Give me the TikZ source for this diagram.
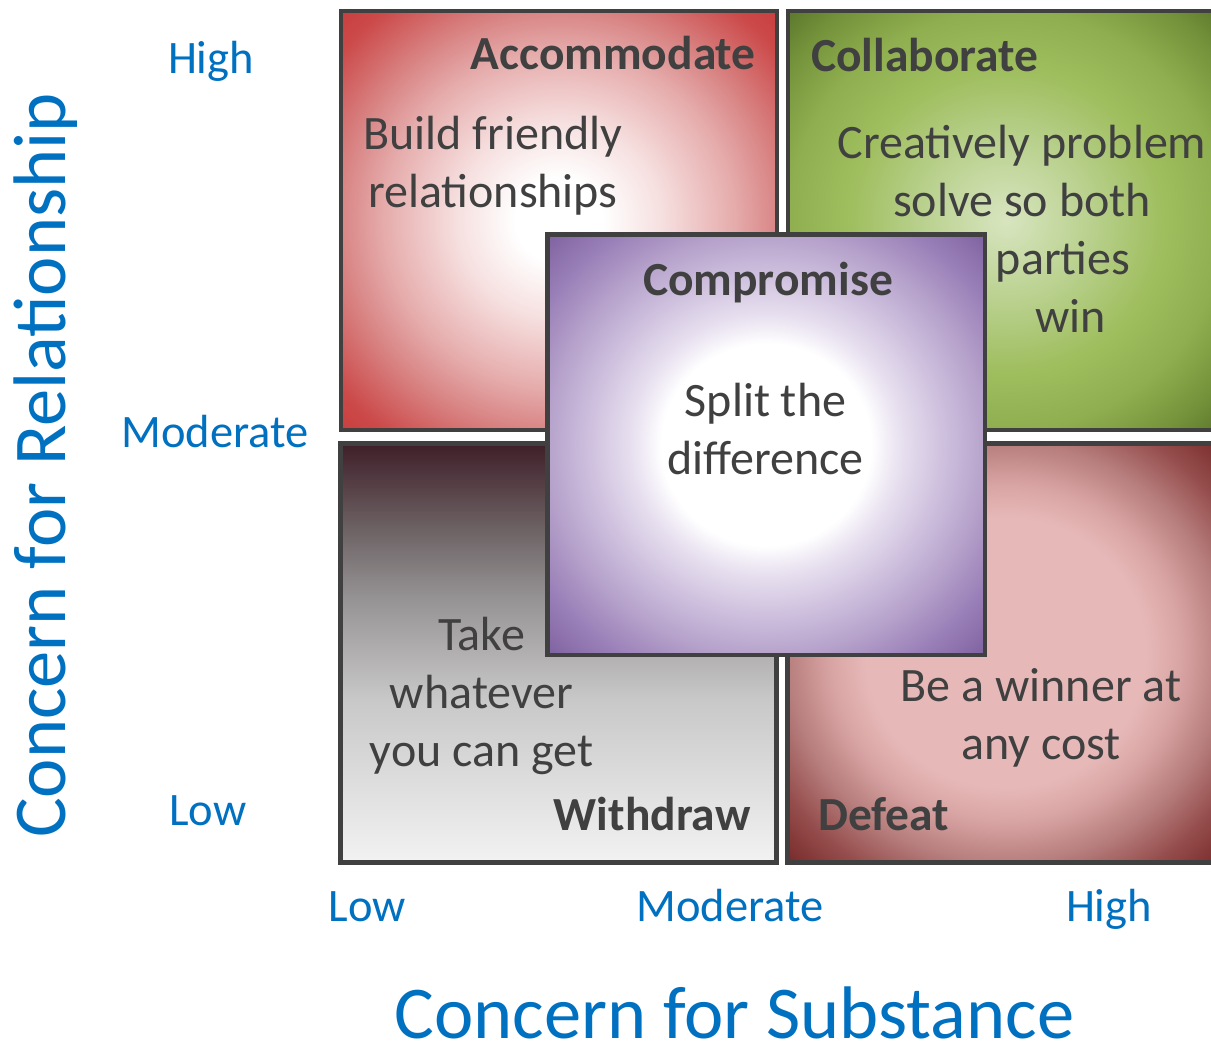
\documentclass[tikz,border=0pt]{standalone}
\usepackage{fontspec}
\setmainfont{Carlito}
\definecolor{txt}{HTML}{404040}
\definecolor{edgegray}{HTML}{404040}
\definecolor{axisblue}{HTML}{0070C0}
% red (Accommodate)
\definecolor{accA}{HTML}{F6DEDE}
\definecolor{accB}{HTML}{E6ACAC}
\definecolor{accC}{HTML}{D98585}
\definecolor{accD}{HTML}{CC4A4A}
\definecolor{accE}{HTML}{C83C3C}
% green (Collaborate)
\definecolor{colA}{HTML}{D8E5C0}
\definecolor{colB}{HTML}{B8D08C}
\definecolor{colC}{HTML}{9FBE5E}
\definecolor{colD}{HTML}{8FAE4F}
\definecolor{colE}{HTML}{74923A}
\definecolor{colF}{HTML}{58732B}
% purple (Compromise)
\definecolor{cmpA}{HTML}{EAE3F1}
\definecolor{cmpB}{HTML}{CABBDB}
\definecolor{cmpC}{HTML}{B6A2CB}
\definecolor{cmpD}{HTML}{9A80B8}
\definecolor{cmpE}{HTML}{8064A2}
% rose (Defeat)
\definecolor{defA}{HTML}{E6B9B8}
\definecolor{defB}{HTML}{D9A5A4}
\definecolor{defC}{HTML}{B77F7E}
\definecolor{defD}{HTML}{964F4E}
\definecolor{defE}{HTML}{7A2C2C}
% grey (Withdraw)
\definecolor{wdA}{HTML}{F2F2F2}
\definecolor{wdB}{HTML}{E2E2E2}
\definecolor{wdC}{HTML}{C8C8C8}
\definecolor{wdD}{HTML}{AFADAE}
\definecolor{wdE}{HTML}{969394}
\definecolor{wdF}{HTML}{6E6466}
\definecolor{wdG}{HTML}{3F1F29}

\pgfdeclareradialshading{accshade}{\pgfpoint{0bp}{0bp}}{color(0bp)=(white); color(5bp)=(white); color(12bp)=(accA); color(20bp)=(accB); color(25bp)=(accC); color(32bp)=(accD); color(36bp)=(accE); color(50bp)=(accE)}
\pgfdeclareradialshading{colshade}{\pgfpoint{0bp}{0bp}}{color(0bp)=(colA); color(10bp)=(colB); color(18bp)=(colC); color(25bp)=(colD); color(31bp)=(colE); color(36bp)=(colF); color(50bp)=(colF)}
\pgfdeclareradialshading{compshade}{\pgfpoint{0bp}{0bp}}{color(0bp)=(white); color(12bp)=(white); color(15bp)=(cmpA); color(21bp)=(cmpB); color(25bp)=(cmpC); color(30bp)=(cmpD); color(35bp)=(cmpE); color(50bp)=(cmpE)}
\pgfdeclareradialshading{defshade}{\pgfpoint{0bp}{0bp}}{color(0bp)=(defA); color(16bp)=(defA); color(20bp)=(defB); color(25bp)=(defC); color(30bp)=(defD); color(35bp)=(defE); color(50bp)=(defE)}
\pgfdeclareverticalshading{wdshade}{100bp}{color(0bp)=(wdA); color(25bp)=(wdA); color(32.5bp)=(wdB); color(44.5bp)=(wdC); color(50.5bp)=(wdD); color(56.5bp)=(wdE); color(64.5bp)=(wdF); color(75bp)=(wdG); color(100bp)=(wdG)}

\begin{document}
\begin{tikzpicture}[x=1pt,y=1pt,
  quad/.style={rectangle, draw=edgegray, line width=4.5pt, inner sep=0pt, outer sep=0pt, minimum width=436pt, minimum height=419pt},
  title/.style={font=\fontsize{47.5}{58}\selectfont\bfseries, text=txt, inner sep=0pt},
  body/.style={font=\fontsize{48}{58}\selectfont, text=txt, inner sep=0pt, text width=440pt, align=flush center, anchor=base},
  tick/.style={font=\fontsize{46.5}{56}\selectfont, text=axisblue, inner sep=0pt, anchor=base},
  axistitle/.style={font=\fontsize{74.5}{90}\selectfont, text=axisblue, inner sep=0pt}]

\useasboundingbox (0,0) rectangle (1211,-1043);
\clip (0,0) rectangle (1211,-1043);
\fill[white] (0,0) rectangle (1211,-1043);

% quadrants
\node[quad, shade, shading=accshade] (acc) at (559,-220.5) {};
\node[quad, shade, shading=colshade] (col) at (1006,-220.5) {};
\node[quad, shade, shading=wdshade]  (wd)  at (558.25,-653) {};
\node[quad, shade, shading=defshade] (def) at (1005.5,-652.75) {};
\node[quad, shade, shading=compshade, minimum width=437.5pt, minimum height=420.5pt] (comp) at (766.25,-444.75) {};

% titles
\node[title, anchor=base east] (accT) at (756,-69.5) {Accommodate};
\node[title, anchor=base west] (colT) at (811,-71.5) {Collaborate};
\node[title, anchor=base] (compT) at (768,-296) {Compromise};
\node[title, anchor=base east] (wdT) at (750.5,-830) {Withdraw};
\node[title, anchor=base west] (defT) at (818,-830) {Defeat};

% descriptions
\node[body] (accB) at (493,-150) {Build friendly\\relationships};
\node[body] (colB) at (1022,-159) {Creatively problem\\solve so both\\\hspace*{82pt}parties\\\hspace*{97pt}win};
\node[body] (compB) at (765.5,-416) {Split the\\difference};
\node[body] (wdB) at (481.5,-650) {Take\\whatever\\you can get};
\node[body] (defB) at (1041,-701.5) {Be a winner at\\any cost};

% axis ticks
\node[tick] (yH) at (211,-73.3) {High};
\node[tick] (yM) at (215.3,-447.7) {Moderate};
\node[tick] (yL) at (208,-825) {Low};
\node[tick] (xL) at (367.5,-921.5) {Low};
\node[tick] (xM) at (730,-921.5) {Moderate};
\node[tick] (xH) at (1109,-921.5) {High};

% axis titles
\node[axistitle, anchor=base] (xT) at (734.5,-1038) {Concern for Substance};
\node[axistitle, anchor=base west, rotate=90] (yT) at (65,-838) {Concern for Relationship};
\end{tikzpicture}
\end{document}
